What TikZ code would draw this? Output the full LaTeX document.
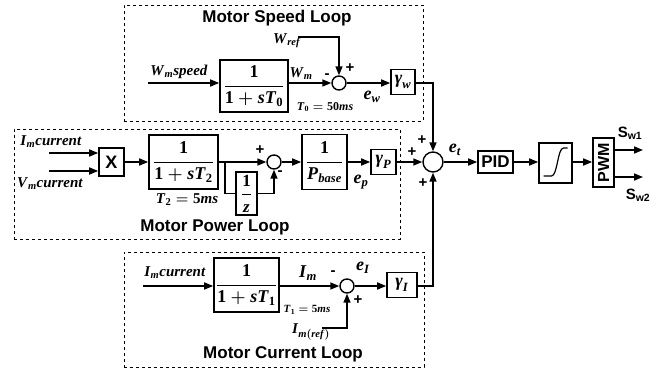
\documentclass[tikz,border=0pt]{standalone}
\usepackage{amsmath}
\usepackage{fontspec}
\setmainfont{Liberation Serif}
\newfontfamily\arialbf{Liberation Sans}
\usetikzlibrary{arrows.meta,positioning,calc}
\newcommand{\bi}[1]{\textbf{\textit{#1}}}
\newcommand{\bn}[1]{\textbf{#1}}

\begin{document}
\begin{tikzpicture}[x=1pt, y=-1pt, line width=1.6pt,
  every node/.style={inner sep=0pt},
  blk/.style={draw, line width=1.6pt, fill=white, font=\fontsize{18}{18}\selectfont\boldmath},
  sumc/.style={draw, circle, line width=1.4pt, minimum size=14pt},
  loopbox/.style={draw, dashed, line width=0.8pt},
  ttl/.style={font=\fontsize{17}{17}\selectfont\arialbf\bfseries},
  sgn/.style={font=\fontsize{15}{15}\selectfont\arialbf\bfseries},
  mlbl/.style={font=\fontsize{15}{15}\selectfont\boldmath},
  slbl/.style={font=\fontsize{12}{12}\selectfont\boldmath},
  arr/.style={-{Triangle[length=9pt,width=7pt]}}]
\useasboundingbox (0,0) rectangle (669,374);

% loop frames
\node[loopbox, minimum width=299pt, minimum height=116pt] (spbox) at (273.5,63) {};
\node[loopbox, minimum width=386pt, minimum height=110pt] (pwbox) at (207,184) {};
\node[loopbox, minimum width=300pt, minimum height=115pt] (cubox) at (274,309.5) {};
\node[ttl] (spttl) at (277,18) {Motor Speed Loop};
\node[ttl] (pwttl) at (215,227) {Motor Power Loop};
\node[ttl] (cuttl) at (283,354) {Motor Current Loop};

% speed loop
\coordinate (wsin) at (148,83);
\coordinate (wref) at (298,37);
\node[mlbl] (wsplbl) at (179,72) {$\bi{W}_{\bi{m}}\bi{speed}$};
\node[blk, minimum width=68pt, minimum height=52pt] (tf0) at (254,86) {$\dfrac{\bn{1}}{\bn{1}+\bi{sT}_{\bn{0}}}$};
\node[sumc] (sumw) at (339,83) {};
\node[blk, minimum width=24pt, minimum height=25pt] (gw) at (403,82) {$\bi{γ}_{\bi{w}}$};
\node[mlbl] (wreflbl) at (287,41) {$\bi{W}_{\bi{ref}}$};
\node[mlbl] (wmlbl) at (301,74) {$\bi{W}_{\bi{m}}$};
\node[sgn] (wmin) at (327,76) {-};
\node[sgn] (wplus) at (350,68) {+};
\node[slbl] (t0lbl) at (325,107) {$\bi{T}_{\bn{0}}=\bn{50}\bi{ms}$};
\node[mlbl, font=\fontsize{18}{18}\selectfont\boldmath] (ewlbl) at (372,97) {$\bi{e}_{\bi{w}}$};

% power loop
\coordinate (iin) at (49,153);
\coordinate (vin) at (49,171);
\coordinate (br) at (225,162);
\node[mlbl] (iplbl) at (51,142) {$\bi{I}_{\bi{m}}\bi{current}$};
\node[mlbl] (vplbl) at (50,184) {$\bi{V}_{\bi{m}}\bi{current}$};
\node[blk, minimum width=25pt, minimum height=28pt, font=\fontsize{18}{18}\selectfont\arialbf\bfseries] (mult) at (111.5,162) {X};
\node[blk, minimum width=69pt, minimum height=54pt] (tf2) at (183.5,162) {$\dfrac{\bn{1}}{\bn{1}+\bi{sT}_{\bn{2}}}$};
\node[sumc] (sump) at (274,162) {};
\node[blk, minimum width=21pt, minimum height=43pt, font=\fontsize{17}{17}\selectfont\boldmath] (zinv) at (246.5,193.5) {$\dfrac{\bn{1}}{\bi{z}}$};
\node[blk, minimum width=45pt, minimum height=55pt] (pb) at (324.5,162) {$\dfrac{\bn{1}}{\bi{P}_{\bi{base}}}$};
\node[blk, minimum width=25pt, minimum height=25pt] (gp) at (383.5,162) {$\bi{γ}_{\bi{P}}$};
\node[mlbl] (t2lbl) at (187,200) {$\bi{T}_{\bn{2}}=\bn{5}\bi{ms}$};
\node[mlbl, font=\fontsize{18}{18}\selectfont\boldmath] (eplbl) at (361,182) {$\bi{e}_{\bi{p}}$};
\node[sgn] (pplus) at (260,150) {+};
\node[sgn] (pmin) at (280,173) {-};

% current loop
\coordinate (cin) at (143,286);
\coordinate (imref) at (322,328);
\node[mlbl] (iclbl) at (175,273) {$\bi{I}_{\bi{m}}\bi{current}$};
\node[blk, minimum width=65pt, minimum height=54pt] (tf1) at (246.5,285) {$\dfrac{\bn{1}}{\bn{1}+\bi{sT}_{\bn{1}}}$};
\node[sumc] (sumi) at (347,286) {};
\node[blk, minimum width=30pt, minimum height=25pt] (gi) at (402,285) {$\bi{γ}_{\bi{I}}$};
\node[mlbl, font=\fontsize{18}{18}\selectfont\boldmath] (imlbl) at (308,273) {$\bi{I}_{\bi{m}}$};
\node[mlbl, font=\fontsize{18}{18}\selectfont\boldmath] (eilbl) at (363,268) {$\bi{e}_{\bi{I}}$};
\node[sgn] (imin) at (333,273) {-};
\node[sgn] (iplus) at (358,300) {+};
\node[slbl, font=\fontsize{11}{11}\selectfont\boldmath] (t1lbl) at (307,310) {$\bi{T}_{\bn{1}}=\bn{5}\bi{ms}$};
\node[mlbl] (imreflbl) at (311,332) {$\bi{I}_{\bi{m}(\bi{ref})}$};

% main path
\coordinate (sw1) at (643,150);
\coordinate (sw2) at (643,177);
\node[sumc, minimum size=20pt] (sum) at (433,162) {};
\node[blk, minimum width=35pt, minimum height=22pt, font=\fontsize{17}{17}\selectfont\arialbf\bfseries] (pid) at (495.5,162) {PID};
\node[blk, minimum width=33pt, minimum height=40pt] (sat) at (555.5,163) {};
\node[blk, minimum width=21pt, minimum height=49pt, font=\fontsize{16}{16}\selectfont\arialbf\bfseries] (pwm) at (603.5,162.5) {\rotatebox{90}{PWM}};
\node[mlbl, font=\fontsize{18}{18}\selectfont\boldmath] (etlbl) at (455,150) {$\bi{e}_{\bi{t}}$};
\node[sgn] (splus1) at (412,152) {+};
\node[sgn] (splus2) at (422,140) {+};
\node[sgn] (splus3) at (423,183) {+};
\node[sgn] (sw1lbl) at (630,133) {S\textsubscript{w1}};
\node[sgn] (sw2lbl) at (638,195) {S\textsubscript{w2}};
\draw[line width=1.2pt] ($(sat.center)+(-12,13)$) -- ++(8,0) .. controls +(6,0) and +(-6,0) .. ($(sat.center)+(8,-15)$) -- ++(4,0);

% speed connectors
\draw[arr] (wsin) -- (wsin -| tf0.west);
\draw[arr] (tf0.east |- sumw) -- (sumw.west);
\draw[arr] (wref) -| (sumw.north);
\draw[arr] (sumw.east) -- (sumw -| gw.west);
\draw[arr] (gw.east |- sumw) -| (sum.north);
% power connectors
\draw[arr] (iin) -- (iin -| mult.west);
\draw[arr] (vin) -- (vin -| mult.west);
\draw[arr] (mult.east) -- (tf2.west);
\draw[arr] (tf2.east) -- (sump.west);
\draw (br) |- (zinv.west);
\draw[arr] (zinv.east) -| (sump.south);
\draw[arr] (sump.east) -- (pb.west);
\draw[arr] (pb.east) -- (gp.west);
\draw[arr] (gp.east) -- (sum.west);
% current connectors
\draw[arr] (cin) -- (cin -| tf1.west);
\draw[arr] (tf1.east |- sumi) -- (sumi.west);
\draw[arr] (imref) -| (sumi.south);
\draw[arr] (sumi.east) -- (sumi -| gi.west);
\draw[arr] (gi.east |- sumi) -| (sum.south);
% output chain
\draw[arr] (sum.east) -- (pid.west);
\draw[arr] (pid.east) -- (sat.west |- pid);
\draw[arr] (sat.east |- pid) -- (pwm.west |- pid);
\draw[arr] (pwm.east |- sw1) -- (sw1);
\draw[arr] (pwm.east |- sw2) -- (sw2);
\end{tikzpicture}
\end{document}
